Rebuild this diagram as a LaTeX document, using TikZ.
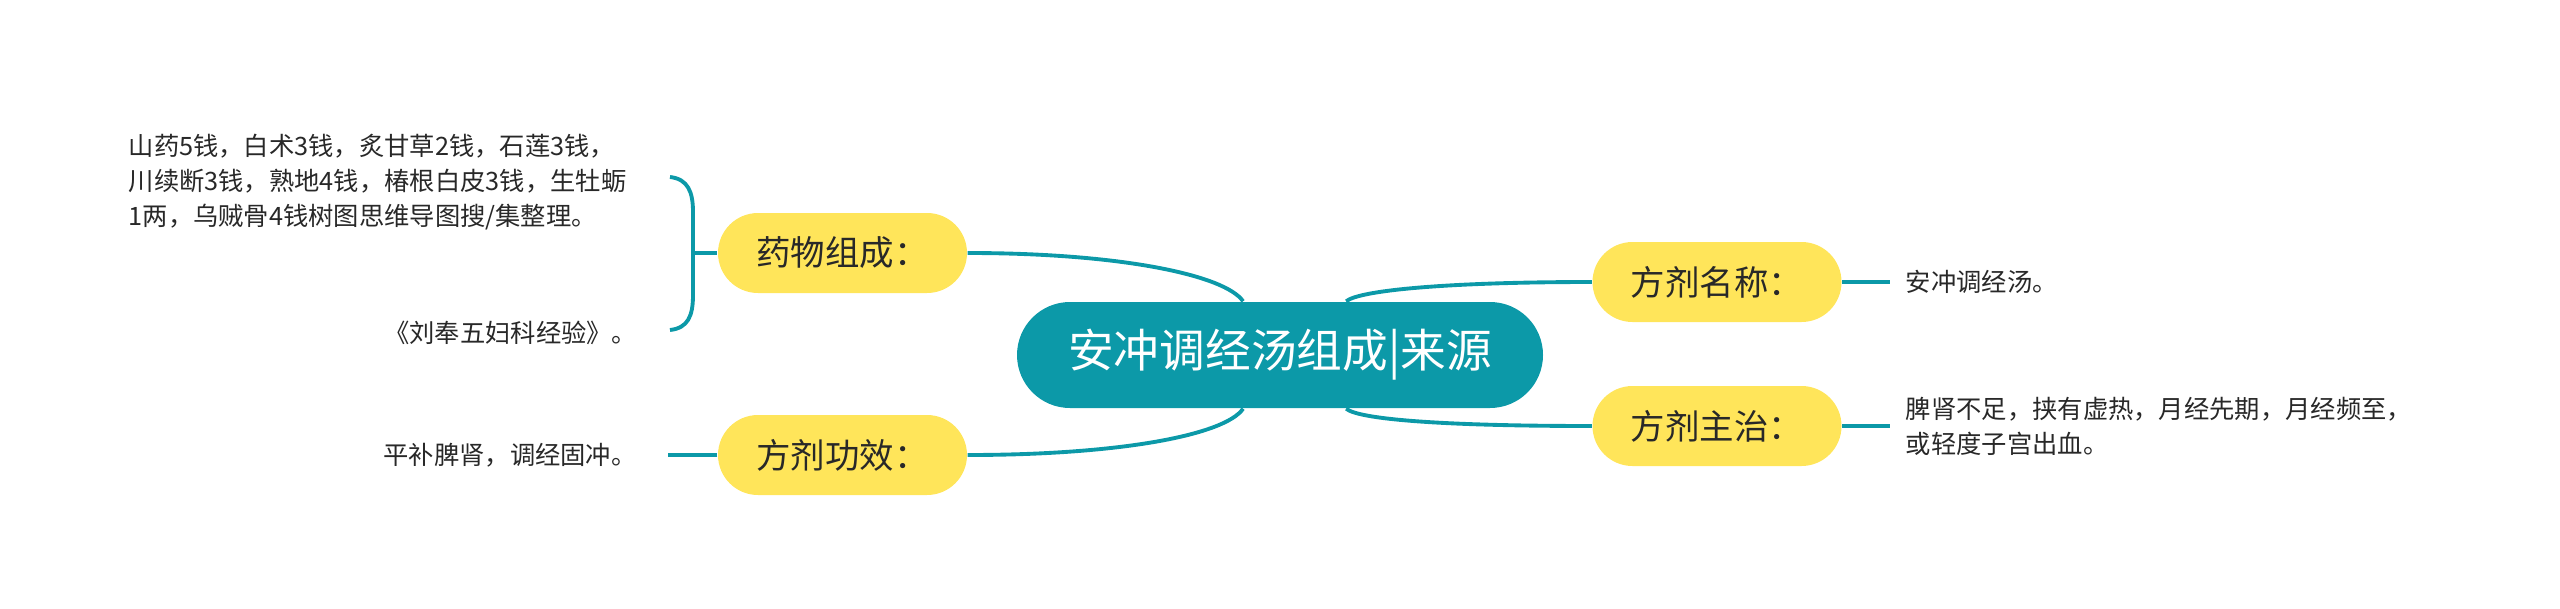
\documentclass[tikz,border=0pt]{standalone}
\usepackage{fontspec}
\setmainfont{Noto Sans CJK SC}
\usepackage{tikz}
\usetikzlibrary{positioning}
\usepackage{xcolor}
\definecolor{mapteal}{RGB}{12,153,168}
\definecolor{mapyellow}{RGB}{255,229,90}
\definecolor{maptext}{RGB}{40,40,40}
\tikzset{
	topic/.style={%
		fill=mapyellow, rounded corners=0.4cm,
		minimum width=2.49cm,
		minimum height=0.8cm,
		inner sep=0pt, text=maptext,
		font=\fontsize{9.8pt}{12pt}\selectfont
	},
	leaf/.style={%
		inner sep=0pt, text=maptext, align=left,
		font=\fontsize{7.2pt}{10pt}\selectfont
	},
	link/.style={draw=mapteal, line width=1.1pt}
}

\begin{document}
\begin{tikzpicture}
		
		% keep the page as large as the map
		\useasboundingbox (0,0) rectangle (25.6,-6.09);
		
		% central topic
		\node[fill=mapteal, text=white, rounded corners=0.53cm,
			minimum width=5.26cm, minimum height=1.06cm,
			font=\fontsize{13pt}{16pt}\selectfont] (root) at (12.8,-3.55) {安冲调经汤组成|来源};
		
		% four topics
		\node[topic] (herb) at (8.425,-2.53) {药物组成：};
		\node[topic] (effect) at (8.425,-4.55) {方剂功效：};
		\node[topic] (name) at (17.17,-2.82) {方剂名称：};
		\node[topic] (treat) at (17.17,-4.26) {方剂主治：};
		
		% leaves
		\node[leaf, anchor=west] (herbdesc) at (1.28,-1.82) {山药5钱，白术3钱，炙甘草2钱，石莲3钱，\\川续断3钱，熟地4钱，椿根白皮3钱，生牡蛎\\1两，乌贼骨4钱树图思维导图搜/集整理。};
		\node[leaf, anchor=east] (srcdesc) at (6.38,-3.33) {《刘奉五妇科经验》。};
		\node[leaf, left=0.80cm of effect] (effectdesc) {平补脾肾，调经固冲。};
		\node[leaf, right=0.63cm of name] (namedesc) {安冲调经汤。};
		\node[leaf, right=0.63cm of treat] (treatdesc) {脾肾不足，挟有虚热，月经先期，月经频至，\\或轻度子宫出血。};
		
		%curves from the centre
		\draw[link] (root) .. controls (12.25,-2.75) and (11.2,-2.53) .. (herb.east);
		\draw[link] (root) .. controls (12.25,-4.35) and (11.2,-4.55) .. (effect.east);
		\draw[link] (root) .. controls (13.6,-2.90) and (14.5,-2.82) .. (name.west);
		\draw[link] (root) .. controls (13.6,-4.20) and (14.5,-4.26) .. (treat.west);
		
		% bracket round the two herb leaves
		\coordinate (brtop) at (6.70,-1.77);
		\coordinate (brmid) at (6.93,-2.53);
		\coordinate (brbot) at (6.70,-3.30);
		\draw[link] (brtop) .. controls (6.88,-1.79) and (6.93,-1.92) .. (6.93,-2.12)
			-- (6.93,-2.95) .. controls (6.93,-3.16) and (6.88,-3.28) .. (brbot);
		\draw[link] (brmid) -- (herb.west);
		
		%short lines to the leaves
		\draw[link] (effect.west) -- ([xshift=0.31cm]effectdesc.east);
		\draw[link] (name.east) -- ([xshift=-0.15cm]namedesc.west);
		\draw[link] (treat.east) -- ([xshift=-0.15cm]treatdesc.west);
		
\end{tikzpicture}
\end{document}
